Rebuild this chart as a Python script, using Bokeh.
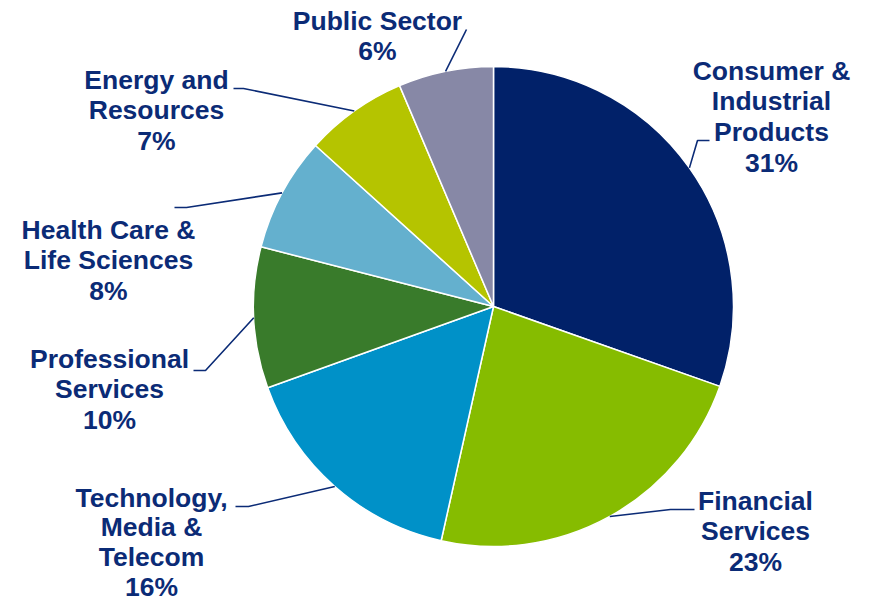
import math
from bokeh.plotting import figure
from bokeh.models import Range1d, ColumnDataSource
from bokeh.core.properties import value
from bokeh.embed import file_html
from bokeh.resources import INLINE

# ---- data ----
categories = ["Consumer & Industrial Products", "Financial Services",
              "Technology, Media & Telecom", "Professional Services",
              "Health Care & Life Sciences", "Energy and Resources", "Public Sector"]
shares = [30.4, 23.1, 16.0, 9.5, 7.7, 6.9, 6.4]
pct_labels = ["31%", "23%", "16%", "10%", "8%", "7%", "6%"]
label_lines = [
    ["Consumer &", "Industrial", "Products"],
    ["Financial", "Services"],
    ["Technology,", "Media &", "Telecom"],
    ["Professional", "Services"],
    ["Health Care &", "Life Sciences"],
    ["Energy and", "Resources"],
    ["Public Sector"],
]
colors = ["#012169", "#86BC00", "#0091C8", "#397B2B", "#64B0CE", "#B5C400", "#8788A6"]

# ---- layout (page pixel coords, y down) ----
W, H = 870, 605
cx, cy, R = 493, 306, 240
label_pos = [(771, 70), (755, 500), (151, 497), (109, 358), (108, 229), (156, 79), (377, 20)]
line_gaps = [30.7, 30.7, 29.7, 30.7, 30.7, 30.7, 30.7]
elbows = [((697, 140), (709, 140)), ((670, 509), (694, 509)), ((248, 506), (235, 506)),
          ((205, 370), (193, 370)), ((186, 207), (174, 207)), ((243, 88), (233, 88)),
          ((466, 29), (466, 29))]
navy = "#0B2B76"

def Y(py):
    return H - py

p = figure(width=W, height=H, output_backend="svg", toolbar_location=None,
           x_range=Range1d(0, W), y_range=Range1d(0, H),
           min_border=0)
p.axis.visible = False
p.grid.visible = False
p.outline_line_color = None
p.background_fill_color = "white"

total = sum(shares)
starts, ends, mids = [], [], []
cum = 0.0
for s in shares:
    a0 = math.pi / 2 - 2 * math.pi * cum / total
    cum += s
    a1 = math.pi / 2 - 2 * math.pi * cum / total
    starts.append(a1)
    ends.append(a0)
    mids.append((a0 + a1) / 2)

src = ColumnDataSource(dict(start=starts, end=ends, color=colors, cat=categories))
p.wedge(x=cx, y=Y(cy), radius=R, start_angle="start", end_angle="end",
        fill_color="color", line_color="white", line_width=1.5, source=src)

# leader lines
xs, ys = [], []
for m, (e1, e2) in zip(mids, elbows):
    sx = cx + R * math.cos(m)
    sy = Y(cy) + R * math.sin(m)
    xs.append([sx, e1[0], e2[0]])
    ys.append([sy, Y(e1[1]), Y(e2[1])])
p.multi_line(xs=xs, ys=ys, line_color=navy, line_width=1.6)

# labels
tx, ty, tt = [], [], []
for lines, pct, (lx, ly), gap in zip(label_lines, pct_labels, label_pos, line_gaps):
    for i, t in enumerate(lines + [pct]):
        tx.append(lx)
        ty.append(Y(ly + i * gap))
        tt.append(t)
p.text(x=tx, y=ty, text=tt, text_align="center", text_baseline="middle",
       text_font=value("Liberation Sans"), text_font_style="bold",
       text_font_size="26.5px", text_color=navy)

open("out.html", "w").write(file_html(p, INLINE))
